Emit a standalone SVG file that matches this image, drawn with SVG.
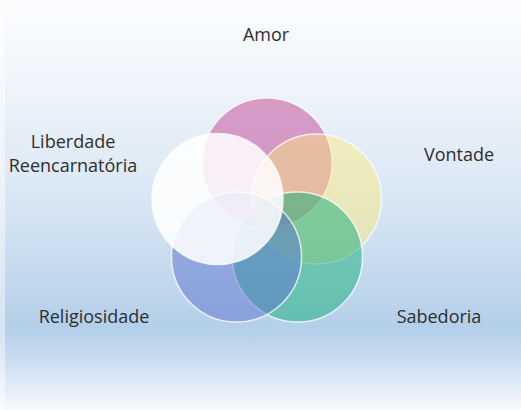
<svg xmlns="http://www.w3.org/2000/svg" width="521" height="410" viewBox="0 0 521 410">
  <defs>
    <linearGradient id="bg" x1="0" y1="0" x2="0" y2="1">
      <stop offset="0" stop-color="#fbfcfe"/>
      <stop offset="0.15" stop-color="#f3f7fb"/>
      <stop offset="0.5" stop-color="#d8e6f4"/>
      <stop offset="0.8" stop-color="#b4cfe9"/>
      <stop offset="0.87" stop-color="#c6dbef"/>
      <stop offset="1" stop-color="#f7fafd"/>
    </linearGradient>
  </defs>
  <style>
    .c { stroke: #ffffff; stroke-opacity: 0.75; stroke-width: 1.5; }
    .lbl { font-family: "Open Sans", "Liberation Sans", sans-serif; font-size: 18px; font-weight: 500; fill: #2e2e2e; text-anchor: middle; }
  </style>
  <rect x="0" y="0" width="521" height="410" fill="url(#bg)"/>
  <rect x="0" y="0" width="5" height="410" fill="#ffffff" fill-opacity="0.45"/>
  <g id="amor">
    <circle class="c" cx="267" cy="163" r="65" fill="#c44494" fill-opacity="0.5"/>
    <text class="lbl" x="266" y="41">Amor</text>
  </g>
  <g id="vontade">
    <circle class="c" cx="316.5" cy="199" r="65" fill="#ffec78" fill-opacity="0.45"/>
    <text class="lbl" x="459" y="161">Vontade</text>
  </g>
  <g id="sabedoria">
    <circle class="c" cx="297.5" cy="257" r="65" fill="#14ae78" fill-opacity="0.5"/>
    <text class="lbl" x="439" y="323">Sabedoria</text>
  </g>
  <g id="religiosidade">
    <circle class="c" cx="236.5" cy="257" r="65" fill="#5c72ce" fill-opacity="0.5"/>
    <text class="lbl" x="94" y="323">Religiosidade</text>
  </g>
  <g id="liberdade">
    <circle class="c" cx="217.5" cy="199" r="65.5" fill="#ffffff" fill-opacity="0.86"/>
    <text class="lbl" x="73" y="148">Liberdade</text>
    <text class="lbl" x="73" y="172">Reencarnatória</text>
  </g>
  <g id="connectors"/>
</svg>
